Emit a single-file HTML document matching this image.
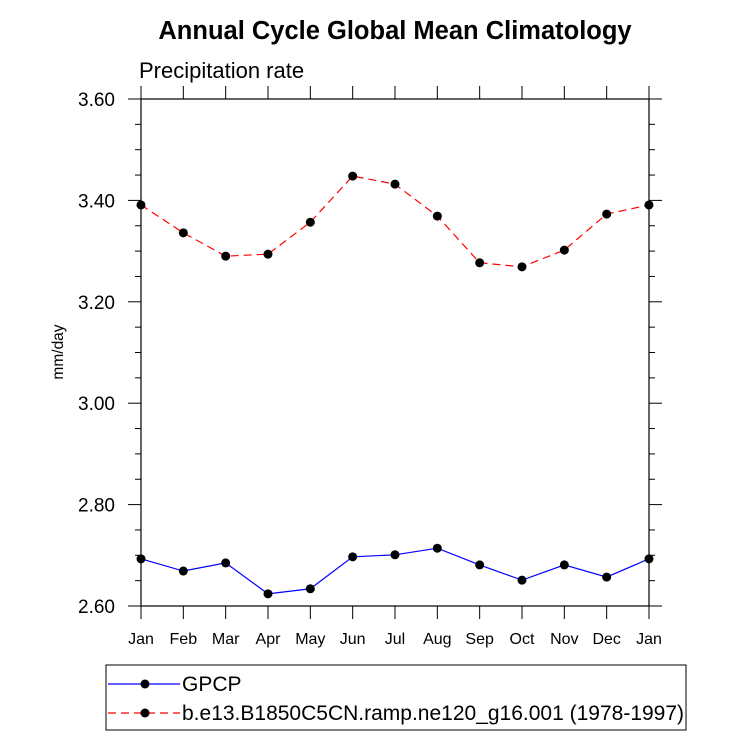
<!DOCTYPE html>
<html><head><meta charset="utf-8"><style>
body{margin:0;background:#fff}
svg text{font-family:"Liberation Sans",sans-serif}
</style></head><body>
<svg width="733" height="739" xmlns="http://www.w3.org/2000/svg" id="svg">
<text x="395" y="39" text-anchor="middle" font-size="25.5" font-weight="bold">Annual Cycle Global Mean Climatology</text>
<text x="139" y="78" font-size="22">Precipitation rate</text>
<text transform="translate(63,352) rotate(-90)" text-anchor="middle" font-size="15.5">mm/day</text>
<g id="axes"></g>
<g id="series"></g>
<g>
<rect x="106" y="665" width="580" height="65" fill="none" stroke="#000" stroke-width="1"/>
<g>
<line x1="108" y1="684" x2="180" y2="684" stroke="#00f" stroke-width="1.2"/>
<circle cx="145" cy="684" r="4.5" fill="#000"/>
<text x="182" y="691" font-size="21">GPCP</text></g>
<g>
<line x1="108" y1="713" x2="180" y2="713" stroke="#f00" stroke-width="1.2" stroke-dasharray="8,5"/>
<circle cx="145" cy="713" r="4.5" fill="#000"/>
<text x="182" y="720" font-size="21">b.e13.B1850C5CN.ramp.ne120_g16.001 (1978-1997)</text></g>
</g>
</svg>
<script>
const months=["Jan","Feb","Mar","Apr","May","Jun","Jul","Aug","Sep","Oct","Nov","Dec","Jan"];
const yTicks=[2.6,2.8,3.0,3.2,3.4,3.6];
const yTickLabels=["2.60","2.80","3.00","3.20","3.40","3.60"];
const gpcp=[2.693,2.669,2.685,2.624,2.634,2.697,2.701,2.714,2.681,2.651,2.681,2.657,2.693];
const model=[3.391,3.336,3.290,3.294,3.357,3.448,3.432,3.369,3.277,3.269,3.302,3.373,3.391];
const L=141,R=649,T=99,B=606,ymin=2.6,ymax=3.6;
const xs=i=>L+(R-L)*i/(months.length-1);
const ys=v=>B-(v-ymin)/(ymax-ymin)*(B-T);
const NS="http://www.w3.org/2000/svg";
function mk(tag,attrs,parent){const e=document.createElementNS(NS,tag);for(const k in attrs)e.setAttribute(k,attrs[k]);parent.appendChild(e);return e;}
const ax=document.getElementById('axes');
const frame=mk('rect',{x:L,y:T,width:R-L,height:B-T,fill:'none',stroke:'#000','stroke-width':1.2},ax);


months.forEach((m,i)=>{const x=xs(i);
mk('line',{x1:x,y1:B,x2:x,y2:B+13,stroke:'#000'},ax);
mk('line',{x1:x,y1:T,x2:x,y2:T-13,stroke:'#000'},ax);
const t=mk('text',{x:x,y:B+38,'text-anchor':'middle','font-size':16},ax);t.textContent=m;

});
yTicks.forEach((v,i)=>{const y=ys(v);
mk('line',{x1:L-13,y1:y,x2:L,y2:y,stroke:'#000'},ax);
mk('line',{x1:R,y1:y,x2:R+13,y2:y,stroke:'#000'},ax);
const t=mk('text',{x:L-26,y:y+7,'text-anchor':'end','font-size':19},ax);t.textContent=yTickLabels[i];


if(i<yTicks.length-1){for(let k=1;k<4;k++){const yy=ys(v+0.05*k);
mk('line',{x1:L-6,y1:yy,x2:L,y2:yy,stroke:'#000'},ax);
mk('line',{x1:R,y1:yy,x2:R+6,y2:yy,stroke:'#000'},ax);}}});
const sg=document.getElementById('series');
function draw(data,color,dash,name){
const pts=data.map((v,i)=>xs(i)+','+ys(v)).join(' ');
const pl=mk('polyline',{points:pts,fill:'none',stroke:color,'stroke-width':1.2},sg);
if(dash)pl.setAttribute('stroke-dasharray',dash);


data.forEach((v,i)=>{const c=mk('circle',{cx:xs(i),cy:ys(v),r:4.5,fill:'#000'},sg);

});}
draw(model,'#f00','8,5','model');
draw(gpcp,'#00f',null,'gpcp');
</script>
</body></html>
